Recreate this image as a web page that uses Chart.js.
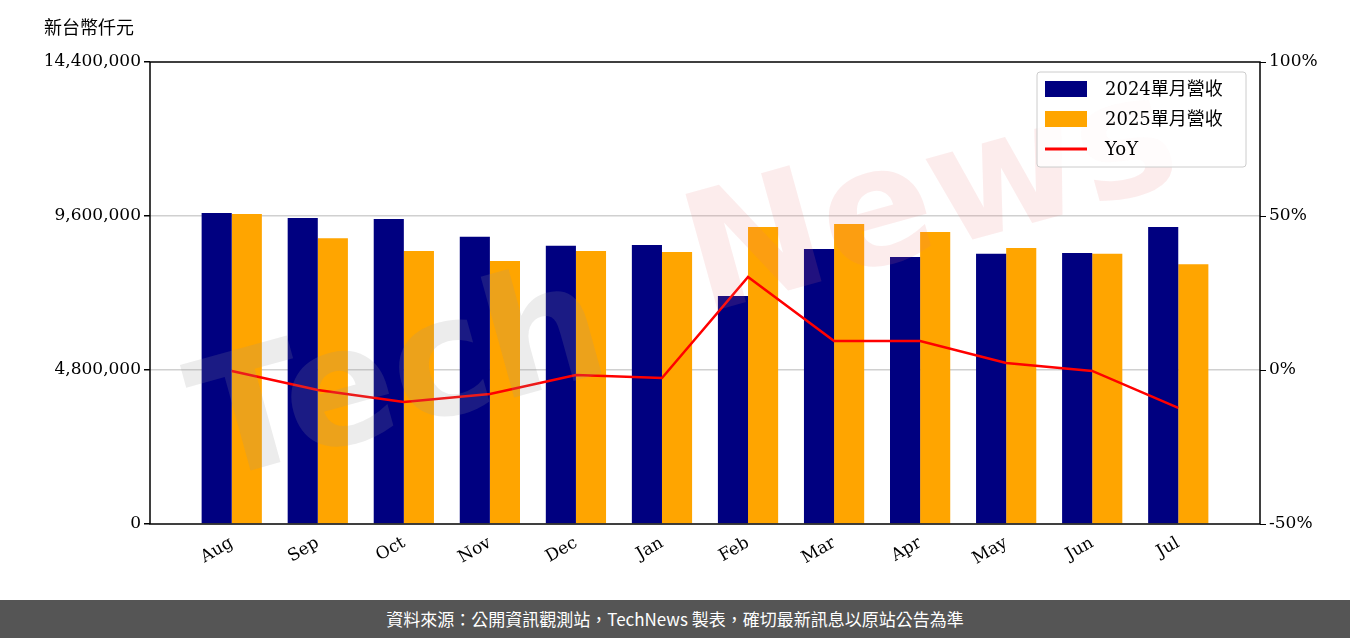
<!DOCTYPE html>
<html><head><meta charset="utf-8">
<script src="https://cdn.jsdelivr.net/npm/chart.js@4"></script>
<style>
body{margin:0;background:#fff;width:1350px;height:638px;overflow:hidden}
#wrap{width:1350px;height:600px;position:relative}
#foot{height:38px;background:#555;color:#fff;font:17px "Noto Sans CJK TC","Noto Sans";text-align:center;line-height:38px}
</style></head><body>
<div id="wrap"><canvas id="chart" width="1350" height="600"></canvas></div>
<div id="foot">資料來源：公開資訊觀測站，TechNews 製表，確切最新訊息以原站公告為準</div>
<script>
var months = ['Aug','Sep','Oct','Nov','Dec','Jan','Feb','Mar','Apr','May','Jun','Jul'];
var rev2024 = [9690000,9540000,9510000,8950000,8670000,8700000,7110000,8570000,8320000,8420000,8450000,9260000];
var rev2025 = [9660000,8910000,8510000,8200000,8510000,8480000,9260000,9350000,9100000,8600000,8420000,8100000];
var yoy = [-0.3,-6.5,-10.4,-7.8,-1.6,-2.6,30.2,9.4,9.4,2.3,-0.3,-12.3];
var color = { y2024:'#000080', y2025:'#ffa500', yoy:'#ff0000' };
var FONT = '"DejaVu Serif","Noto Sans CJK TC"';

var extras = {
  id:'extras',
  afterDatasetsDraw:function(c){
    var g=c.ctx;
    g.save();
    g.translate(685,285); g.rotate(-0.27);
    g.font='bold 165px "DejaVu Sans"';
    g.textAlign='center'; g.textBaseline='middle';
    g.fillStyle='rgba(150,150,150,0.18)';
    g.fillText('Tech',-300,20);
    g.fillStyle='rgba(235,120,120,0.14)';
    g.fillText('News',260,-10);
    g.restore();
  },
  afterDraw:function(c){
    var g=c.ctx, a=c.chartArea;
    g.save();
    g.strokeStyle='#000'; g.lineWidth=1.5;
    g.strokeRect(a.left,a.top,a.right-a.left,a.bottom-a.top);
    g.fillStyle='#000'; g.font='18px "Noto Sans CJK TC"';
    g.textBaseline='middle';
    g.fillText('新台幣仟元',44,27);
    // legend
    g.fillStyle='rgba(255,255,255,0.85)'; g.strokeStyle='#ccc'; g.lineWidth=1;
    g.beginPath(); g.roundRect(1037,72,209,95,3); g.fill(); g.stroke();
    var items=[['2024單月營收',color.y2024,'box'],['2025單月營收',color.y2025,'box'],['YoY',color.yoy,'line']];
    g.font='18px '+FONT;
    items.forEach(function(it,i){
      var y=89+i*30;
      g.fillStyle=it[1];
      if(it[2]=='box') g.fillRect(1045,y-8,42,16);
      else g.fillRect(1045,y-1.5,42,3);
      g.fillStyle='#000'; g.fillText(it[0],1105,y+1);
    });
    g.restore();
  }
};

var ctx = document.getElementById('chart').getContext('2d');
var chart = new Chart(ctx,{
  data:{
    labels:months,
    datasets:[
      {type:'line',label:'YoY',data:yoy,borderColor:color.yoy,borderWidth:2.5,pointRadius:0,yAxisID:'y1',order:0},
      {type:'bar',label:'2024單月營收',data:rev2024,backgroundColor:color.y2024,yAxisID:'y',categoryPercentage:0.7,barPercentage:1,order:1},
      {type:'bar',label:'2025單月營收',data:rev2025,backgroundColor:color.y2025,yAxisID:'y',categoryPercentage:0.7,barPercentage:1,order:1}
    ]
  },
  options:{
    responsive:false, animation:false,
    layout:{padding:{top:62,left:0,right:0,bottom:0}},
    plugins:{legend:{display:false},tooltip:{enabled:false}},
    scales:{
      x:{
        afterFit:function(s){s.height=76;},
        afterUpdate:function(s){s._startValue-=0.45;s._valueRange+=0.9;},
        grid:{display:false,drawTicks:true,tickLength:6,tickColor:'#000'},
        border:{display:false},
        ticks:{color:'#000',font:{family:FONT,size:17},maxRotation:30,minRotation:30}
      },
      y:{
        position:'left',min:0,max:14400000,
        afterFit:function(s){s.width=150;},
        border:{display:false},
        grid:{color:function(c){var v=c.tick.value;return (v>0&&v<14400000)?'#d0d0d0':'rgba(0,0,0,0)';},tickLength:6,tickColor:'#000',lineWidth:1.5},
        ticks:{stepSize:4800000,color:'#000',font:{family:FONT,size:17},
          callback:function(v){return v.toLocaleString('en-US');}}
      },
      y1:{
        position:'right',min:-50,max:100,
        afterFit:function(s){s.width=90;},
        border:{display:false},
        grid:{drawOnChartArea:false,tickLength:6,tickColor:'#000'},
        ticks:{stepSize:50,color:'#000',font:{family:FONT,size:17},callback:function(v){return v+'%';}}
      }
    }
  },
  plugins:[extras]
});
</script>
</body></html>
